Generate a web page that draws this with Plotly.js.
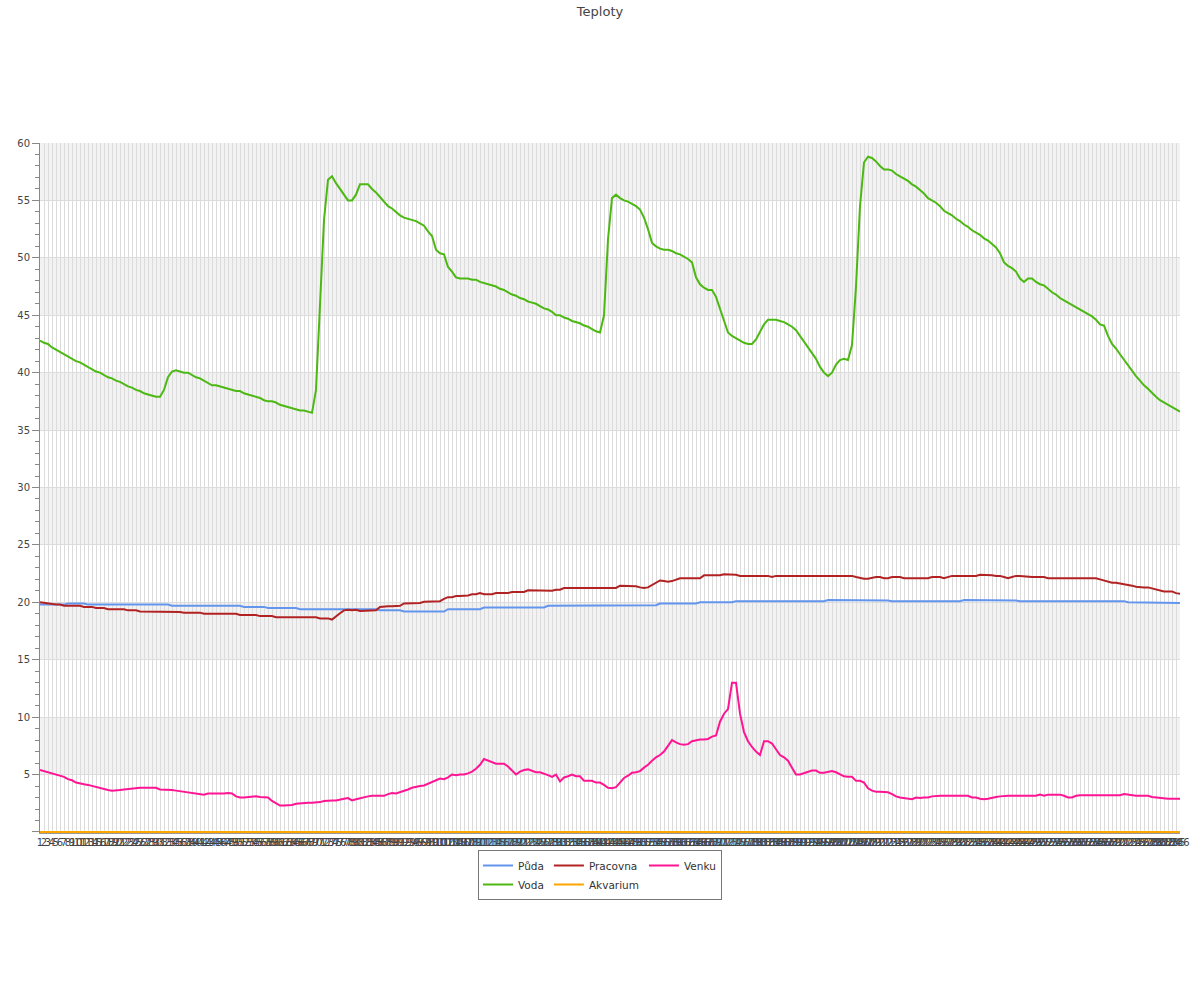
<!DOCTYPE html>
<html>
<head>
<meta charset="utf-8">
<script src="https://cdn.plot.ly/plotly-3.0.1.min.js"></script>
<style>html,body{margin:0;padding:0;background:#fff;}#chart{width:1200px;height:1000px;}</style>
</head>
<body>
<div id="chart"></div>
<script>
// category labels 1..286 (sample numbers)
const categories = Array.from({length: 286}, (_, i) => String(i + 1));

const puda = [
19.8,19.8,19.8,19.8,19.8,19.8,19.8,19.9,19.9,19.9,
19.9,19.9,19.8,19.8,19.8,19.8,19.8,19.8,19.85,19.8,
19.8,19.8,19.8,19.85,19.8,19.8,19.8,19.8,19.8,19.8,
19.8,19.8,19.8,19.7,19.7,19.7,19.7,19.7,19.7,19.7,
19.7,19.7,19.7,19.7,19.7,19.7,19.7,19.7,19.7,19.7,
19.7,19.6,19.6,19.6,19.6,19.6,19.6,19.5,19.5,19.5,
19.5,19.5,19.5,19.5,19.5,19.4,19.4,19.4,19.4,19.4,
19.4,19.4,19.4,19.4,19.4,19.4,19.4,19.4,19.4,19.4,
19.4,19.4,19.4,19.4,19.4,19.3,19.3,19.3,19.3,19.3,
19.3,19.2,19.2,19.2,19.2,19.2,19.2,19.2,19.2,19.2,
19.2,19.2,19.4,19.4,19.4,19.4,19.4,19.4,19.4,19.4,
19.4,19.55,19.55,19.55,19.55,19.55,19.55,19.55,19.55,19.55,
19.55,19.55,19.55,19.55,19.55,19.55,19.55,19.7,19.7,19.7,
19.7,19.7,19.7,19.7,19.7,19.7,19.7,19.7,19.7,19.7,
19.7,19.7,19.7,19.7,19.7,19.7,19.7,19.7,19.75,19.75,
19.75,19.75,19.75,19.75,19.75,19.9,19.9,19.9,19.9,19.9,
19.9,19.9,19.9,19.9,19.9,20.0,20.0,20.0,20.0,20.0,
20.0,20.0,20.0,20.0,20.1,20.1,20.1,20.1,20.1,20.1,
20.1,20.1,20.1,20.1,20.1,20.1,20.1,20.1,20.1,20.1,
20.1,20.1,20.1,20.1,20.1,20.1,20.1,20.2,20.2,20.2,
20.2,20.2,20.2,20.2,20.2,20.2,20.2,20.2,20.2,20.2,
20.2,20.2,20.15,20.1,20.1,20.1,20.1,20.1,20.1,20.1,
20.1,20.1,20.1,20.1,20.1,20.1,20.1,20.1,20.1,20.1,
20.1,20.2,20.2,20.2,20.2,20.2,20.2,20.2,20.2,20.2,
20.2,20.2,20.2,20.2,20.15,20.1,20.1,20.1,20.1,20.1,
20.1,20.1,20.1,20.1,20.1,20.1,20.1,20.1,20.1,20.1,
20.1,20.1,20.1,20.1,20.1,20.1,20.1,20.1,20.1,20.1,
20.1,20.1,20.0,20.0,20.0,20.0,20.0,20.0,19.95,19.95,
19.95,19.95,19.95,19.95,19.95,19.95
];

const voda = [
42.8,42.6,42.5,42.2,42.0,41.8,41.6,41.4,41.2,41.0,
40.9,40.7,40.5,40.3,40.1,40.0,39.8,39.6,39.5,39.3,
39.2,39.0,38.8,38.7,38.5,38.4,38.2,38.1,38.0,37.9,
37.9,38.5,39.6,40.1,40.2,40.1,40.0,40.0,39.8,39.6,
39.5,39.3,39.1,38.9,38.9,38.8,38.7,38.6,38.5,38.4,
38.4,38.2,38.1,38.0,37.9,37.8,37.6,37.5,37.5,37.4,
37.2,37.1,37.0,36.9,36.8,36.7,36.7,36.6,36.5,38.5,
46.0,53.3,56.8,57.1,56.5,56.0,55.5,55.0,55.0,55.5,
56.4,56.4,56.4,56.0,55.7,55.3,54.9,54.5,54.3,54.0,
53.7,53.5,53.4,53.3,53.2,53.0,52.8,52.3,51.9,50.7,
50.4,50.3,49.2,48.8,48.3,48.2,48.2,48.2,48.1,48.1,
47.9,47.8,47.7,47.6,47.5,47.3,47.2,47.0,46.8,46.7,
46.5,46.4,46.2,46.1,46.0,45.8,45.6,45.5,45.3,45.0,
45.0,44.8,44.7,44.5,44.4,44.3,44.1,44.0,43.8,43.6,
43.5,45.0,51.6,55.2,55.5,55.2,55.0,54.9,54.7,54.5,
54.2,53.5,52.5,51.3,51.0,50.8,50.7,50.7,50.6,50.4,
50.3,50.1,49.9,49.6,48.3,47.7,47.4,47.2,47.2,46.6,
45.6,44.6,43.5,43.2,43.0,42.8,42.6,42.5,42.5,42.9,
43.6,44.2,44.6,44.6,44.6,44.5,44.4,44.2,44.0,43.7,
43.2,42.7,42.3,41.8,41.2,40.5,40.0,39.7,40.0,40.7,
41.1,41.2,41.1,42.4,47.5,54.5,58.3,58.8,58.7,58.4,
58.0,57.7,57.7,57.6,57.3,57.1,56.9,56.7,56.4,56.2,
55.9,55.6,55.2,55.0,54.8,54.5,54.1,53.9,53.7,53.4,
53.2,52.9,52.7,52.4,52.2,52.0,51.7,51.5,51.2,50.9,
50.4,49.6,49.3,49.1,48.8,48.2,47.9,48.2,48.2,47.9,
47.7,47.6,47.3,47.0,46.8,46.5,46.3,46.1,45.9,45.7,
45.5,45.3,45.1,44.9,44.6,44.2,44.1,43.2,42.5,42.1,
41.6,41.1,40.6,40.1,39.7,39.3,38.9,38.6,38.2,37.9,
37.6,37.4,37.2,37.0,36.8,36.6
];

const pracovna = [
20.0,19.95,19.85,19.8,19.8,19.8,19.7,19.7,19.7,19.7,
19.7,19.6,19.6,19.6,19.5,19.5,19.5,19.4,19.4,19.4,
19.4,19.4,19.3,19.3,19.3,19.2,19.2,19.2,19.2,19.2,
19.2,19.2,19.2,19.15,19.15,19.15,19.1,19.1,19.1,19.1,
19.1,19.0,19.0,19.0,19.0,19.0,19.0,19.0,19.0,19.0,
18.9,18.9,18.9,18.9,18.9,18.8,18.8,18.8,18.8,18.7,
18.7,18.7,18.7,18.7,18.7,18.7,18.7,18.7,18.7,18.7,
18.6,18.6,18.6,18.5,18.8,19.05,19.3,19.35,19.3,19.35,
19.25,19.25,19.25,19.25,19.3,19.6,19.65,19.65,19.65,19.65,
19.7,19.9,19.9,19.9,19.9,19.95,20.05,20.05,20.1,20.1,
20.1,20.3,20.45,20.45,20.55,20.55,20.55,20.6,20.7,20.7,
20.8,20.7,20.7,20.7,20.8,20.8,20.8,20.8,20.9,20.9,
20.9,20.9,21.05,21.05,21.05,21.05,21.05,21.0,21.0,21.1,
21.1,21.25,21.25,21.25,21.25,21.25,21.25,21.3,21.3,21.3,
21.3,21.25,21.25,21.25,21.25,21.45,21.45,21.45,21.45,21.4,
21.3,21.25,21.3,21.5,21.75,21.9,21.85,21.8,21.85,22.0,
22.1,22.1,22.1,22.1,22.1,22.1,22.35,22.35,22.35,22.35,
22.35,22.45,22.45,22.45,22.4,22.3,22.3,22.3,22.3,22.3,
22.3,22.3,22.3,22.2,22.3,22.3,22.3,22.3,22.3,22.3,
22.3,22.3,22.3,22.3,22.3,22.3,22.3,22.3,22.3,22.3,
22.3,22.3,22.3,22.3,22.2,22.1,22.05,22.05,22.15,22.2,
22.2,22.1,22.1,22.2,22.2,22.2,22.1,22.1,22.1,22.1,
22.1,22.1,22.1,22.2,22.2,22.2,22.1,22.2,22.3,22.3,
22.3,22.3,22.3,22.3,22.3,22.4,22.4,22.4,22.35,22.3,
22.3,22.2,22.1,22.2,22.3,22.3,22.25,22.2,22.2,22.2,
22.2,22.2,22.1,22.1,22.1,22.1,22.05,22.1,22.1,22.1,
22.1,22.1,22.1,22.1,22.1,22.0,21.9,21.8,21.7,21.7,
21.65,21.55,21.5,21.45,21.35,21.3,21.3,21.3,21.2,21.1,
21.0,20.95,20.95,20.95,20.8,20.75
];

const akvarium = [
0,0,0,0,0,0,0,0,0,0, 0,0,0,0,0,0,0,0,0,0, 0,0,0,0,0,0,0,0,0,0,
0,0,0,0,0,0,0,0,0,0, 0,0,0,0,0,0,0,0,0,0, 0,0,0,0,0,0,0,0,0,0,
0,0,0,0,0,0,0,0,0,0, 0,0,0,0,0,0,0,0,0,0, 0,0,0,0,0,0,0,0,0,0,
0,0,0,0,0,0,0,0,0,0, 0,0,0,0,0,0,0,0,0,0, 0,0,0,0,0,0,0,0,0,0,
0,0,0,0,0,0,0,0,0,0, 0,0,0,0,0,0,0,0,0,0, 0,0,0,0,0,0,0,0,0,0,
0,0,0,0,0,0,0,0,0,0, 0,0,0,0,0,0,0,0,0,0, 0,0,0,0,0,0,0,0,0,0,
0,0,0,0,0,0,0,0,0,0, 0,0,0,0,0,0,0,0,0,0, 0,0,0,0,0,0,0,0,0,0,
0,0,0,0,0,0,0,0,0,0, 0,0,0,0,0,0,0,0,0,0, 0,0,0,0,0,0,0,0,0,0,
0,0,0,0,0,0,0,0,0,0, 0,0,0,0,0,0,0,0,0,0, 0,0,0,0,0,0,0,0,0,0,
0,0,0,0,0,0,0,0,0,0,
0,0,0,0,0,0
];

const venku = [
5.4,5.3,5.2,5.1,5.0,4.9,4.8,4.6,4.5,4.3,
4.2,4.15,4.1,4.0,3.9,3.8,3.7,3.65,3.6,3.6,
3.65,3.7,3.75,3.8,3.85,3.85,3.85,3.85,3.85,3.85,
3.7,3.7,3.65,3.65,3.6,3.55,3.45,3.4,3.4,3.35,
3.3,3.25,3.35,3.35,3.3,3.3,3.35,3.4,3.35,3.1,
3.0,3.0,3.05,3.05,3.1,3.05,3.05,3.0,2.7,2.5,
2.3,2.3,2.3,2.35,2.45,2.5,2.55,2.55,2.55,2.55,
2.6,2.7,2.75,2.75,2.75,2.85,2.9,2.95,2.75,2.85,
2.95,3.05,3.1,3.15,3.15,3.2,3.15,3.3,3.4,3.35,
3.45,3.6,3.7,3.85,3.95,4.0,4.05,4.2,4.4,4.5,
4.65,4.6,4.75,5.0,4.95,5.0,5.0,5.1,5.25,5.5,
5.85,6.35,6.2,6.1,5.95,5.95,5.95,5.7,5.35,5.0,
5.25,5.4,5.45,5.3,5.2,5.2,5.1,4.95,4.8,5.0,
4.4,4.75,4.85,5.0,4.85,4.85,4.45,4.45,4.45,4.3,
4.3,4.1,3.85,3.8,3.9,4.3,4.7,4.9,5.15,5.2,
5.3,5.6,5.85,6.2,6.5,6.7,7.0,7.5,8.0,7.8,
7.65,7.6,7.65,7.9,8.0,8.05,8.05,8.1,8.3,8.4,
9.6,10.3,10.7,13.0,13.0,10.3,8.7,7.9,7.4,7.0,
6.7,7.9,7.9,7.7,7.2,6.7,6.5,6.2,5.6,5.0,
5.0,5.1,5.2,5.35,5.35,5.15,5.15,5.2,5.3,5.2,
5.0,4.85,4.8,4.8,4.45,4.45,4.3,3.8,3.6,3.5,
3.5,3.5,3.45,3.3,3.1,3.0,2.95,2.9,2.85,3.0,
2.95,3.0,3.0,3.1,3.15,3.15,3.15,3.15,3.15,3.15,
3.15,3.15,3.15,3.0,3.0,2.9,2.85,2.9,3.0,3.05,
3.1,3.15,3.15,3.15,3.15,3.15,3.15,3.15,3.15,3.15,
3.25,3.15,3.25,3.25,3.25,3.25,3.15,3.0,3.0,3.15,
3.2,3.2,3.2,3.2,3.2,3.2,3.2,3.2,3.2,3.2,
3.2,3.3,3.25,3.15,3.15,3.15,3.15,3.15,3.05,3.0,
3.0,2.9,2.9,2.9,2.9,2.9
];

const yTickVals = [0,5,10,15,20,25,30,35,40,45,50,55,60];
const yTickText = ['','5','10','15','20','25','30','35','40','45','50','55','60'];

const FONT = '"DejaVu Sans", Verdana, sans-serif';

function tr(name, y, color, group) {
  return {
    type: 'scatter', mode: 'lines', name: name, x: categories, y: y,
    legendgroup: group,
    line: {color: color, width: 2},
    hoverinfo: 'x+y+name'
  };
}

const data = [
  tr('Půda', puda, '#6495ed', 'g1'),
  tr('Voda', voda, '#4cb812', 'g1'),
  tr('Pracovna', pracovna, '#b22222', 'g2'),
  tr('Akvarium', akvarium, '#ffa500', 'g2'),
  tr('Venku', venku, '#ff1493', 'g3')
];

// alternating grey bands every other 5 degrees
const shapes = [];
for (let b = 5; b < 60; b += 10) {
  shapes.push({type: 'rect', xref: 'paper', x0: 0, x1: 1, yref: 'y', y0: b, y1: b + 5,
    fillcolor: '#f2f2f2', line: {width: 0}, layer: 'below'});
}

const layout = {
  width: 1200, height: 1000,
  margin: {l: 40, r: 20, t: 143, b: 167, pad: 0},
  paper_bgcolor: '#ffffff', plot_bgcolor: '#ffffff',
  font: {family: FONT, size: 10, color: '#444'},
  title: {text: 'Teploty', x: 0.5, xref: 'container', xanchor: 'center',
          y: 0.989, yref: 'container', yanchor: 'middle',
          font: {family: FONT, size: 13, color: '#444'}},
  showlegend: true,
  legend: {orientation: 'h', traceorder: 'grouped', tracegroupgap: 0,
           x: 0.5, xref: 'container', xanchor: 'center',
           y: 0.15, yref: 'container', yanchor: 'top',
           bgcolor: '#ffffff', bordercolor: '#777', borderwidth: 1,
           font: {family: FONT, size: 10.5, color: '#333'}, itemwidth: 30},
  xaxis: {type: 'category', range: [0, 285], tickmode: 'linear', tick0: 0, dtick: 1,
          showgrid: true, gridcolor: '#dcdcdc', gridwidth: 1,
          showline: true, linecolor: '#999', linewidth: 1,
          ticks: '', tickangle: 0, tickfont: {family: FONT, size: 10, color: '#444'},
          zeroline: false, fixedrange: true},
  yaxis: {range: [-0.09, 60], tickmode: 'array', tickvals: yTickVals, ticktext: yTickText,
          showgrid: true, gridcolor: '#dcdcdc', gridwidth: 1,
          showline: true, linecolor: '#888', linewidth: 1,
          ticks: 'outside', ticklen: 7, tickcolor: '#888', tickwidth: 1,
          minor: {tickmode: 'linear', tick0: 0, dtick: 1, ticks: 'outside', ticklen: 4,
                  tickcolor: '#888', tickwidth: 1, showgrid: false},
          tickfont: {family: FONT, size: 10, color: '#444'},
          zeroline: false, fixedrange: true},
  shapes: shapes
};

Plotly.newPlot('chart', data, layout, {displayModeBar: false, staticPlot: true});
</script>
</body>
</html>
